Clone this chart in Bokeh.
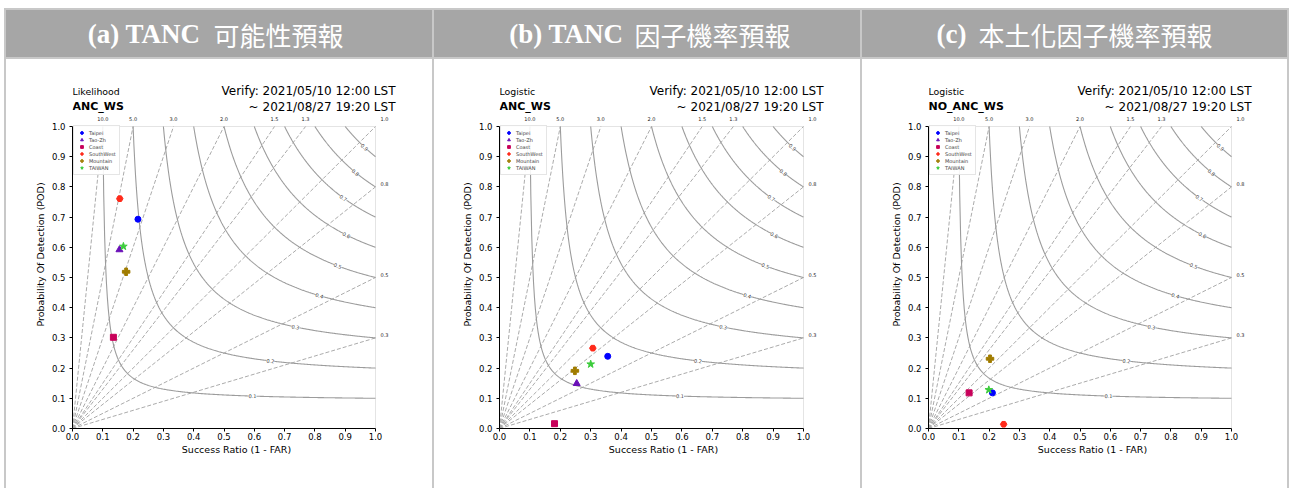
import numpy as np
from bokeh.plotting import figure
from bokeh.layouts import row, column, Spacer
from bokeh.models import (Range1d, FixedTicker, Label, LabelSet, ColumnDataSource,
                          Legend, LegendItem, PrintfTickFormatter)
from bokeh.core.properties import value
from bokeh.embed import file_html
from bokeh.resources import INLINE

# ---------------- data ----------------
regions = ["Taipei", "Tao-Zh", "Coast", "SouthWest", "Mountain", "TAIWAN"]
colors = ["#0000ff", "#6a10b8", "#c8005a", "#ff2a1a", "#a07c00", "#3ccc3c"]
markers = ["circle", "triangle", "square", "hex", "plus", "star"]

sr_a = [0.216, 0.155, 0.135, 0.156, 0.177, 0.168]
pod_a = [0.693, 0.592, 0.302, 0.761, 0.519, 0.603]

sr_b = [0.356, 0.254, 0.181, 0.307, 0.248, 0.300]
pod_b = [0.239, 0.149, 0.016, 0.266, 0.191, 0.213]

sr_c = [0.211, float("nan"), 0.134, 0.248, 0.203, 0.199]
pod_c = [0.118, float("nan"), 0.118, 0.014, 0.231, 0.128]

bias_levels = [0.3, 0.5, 0.8, 1.0, 1.3, 1.5, 2.0, 3.0, 5.0, 10.0]
csi_levels = [0.1, 0.2, 0.3, 0.4, 0.5, 0.6, 0.7, 0.8, 0.9]
csi_label_sr = [0.594, 0.653, 0.736, 0.815, 0.875, 0.904, 0.894, 0.934, 0.964]
tick_values = [0.0, 0.1, 0.2, 0.3, 0.4, 0.5, 0.6, 0.7, 0.8, 0.9, 1.0]

header_left = ["(a) TANC", "(b) TANC", "(c)"]
header_right = ["可能性預報", "因子機率預報", "本土化因子機率預報"]
methods = ["Likelihood", "Logistic", "Logistic"]
cases = ["ANC_WS", "ANC_WS", "NO_ANC_WS"]
verify_start = "Verify: 2021/05/10 12:00 LST"
verify_end = "~ 2021/08/27 19:20 LST"
x_label = "Success Ratio (1 - FAR)"
y_label = "Probability Of Detection (POD)"

HEADER_BG = "#a6a6a6"
BORDER = "#c8c8c8"
SANS = "DejaVu Sans"

# layout geometry (pixels)
BODY_H = 429
FRAME_W = 328          # frame extends a little past SR = 1 to hold the bias labels
FRAME_H = 348          # frame extends above POD = 1 to hold the titles
UNIT_Y = 302           # pixels per unit of POD
MB_TOP = 21
MB_BOTTOM = BODY_H - MB_TOP - FRAME_H


def gray_bar(w, h):
    return Spacer(width=w, height=h, styles={"background-color": BORDER})


def header_fig(w, ml, mr, abs_left, left_txt, right_txt, split_l, split_r):
    h = figure(width=w, height=47, x_range=Range1d(abs_left, abs_left + FRAME_W),
               y_range=Range1d(0, 1), toolbar_location=None, output_backend="svg",
               min_border_left=ml, min_border_right=mr, min_border_top=0,
               min_border_bottom=0, x_axis_location=None, y_axis_location=None,
               outline_line_color=None, background_fill_color=None,
               border_fill_color=None, styles={"background-color": HEADER_BG})
    h.xgrid.visible = False
    h.ygrid.visible = False
    h.add_layout(Label(x=split_l, y=0.5, text=left_txt, text_align="right",
                       text_baseline="middle", text_color="white",
                       text_font="Liberation Serif", text_font_style="bold",
                       text_font_size="27px"))
    h.add_layout(Label(x=split_r, y=0.5, text=right_txt, text_align="left",
                       text_baseline="middle", text_color="white",
                       text_font="Noto Sans CJK TC", text_font_size="26px"))
    return h


def body_fig(w, ml, mr, unit_x, sr, pod, method, case):
    p = figure(width=w, height=BODY_H,
               x_range=Range1d(0, FRAME_W / unit_x), y_range=Range1d(0, FRAME_H / UNIT_Y),
               toolbar_location=None, output_backend="svg",
               min_border_left=ml, min_border_right=mr, min_border_top=MB_TOP,
               min_border_bottom=MB_BOTTOM, background_fill_color=None,
               border_fill_color="white", outline_line_color=None)
    p.xgrid.visible = False
    p.ygrid.visible = False

    lo, hi = tick_values[0], tick_values[-1]
    # faint top / right spines
    p.segment(x0=[lo, hi], y0=[hi, lo], x1=[hi, hi], y1=[hi, hi],
              line_color="#e4e4e4", line_width=1)

    # frequency-bias lines
    bx = [min(1.0, 1.0 / b) for b in bias_levels]
    by = [min(1.0, b) for b in bias_levels]
    p.segment(x0=0, y0=0, x1=bx, y1=by, line_color="#ababab", line_dash="4 2",
              line_width=1)

    # CSI contours
    xs, ys = [], []
    for c in csi_levels:
        x = np.linspace(c, 1.0, 300)
        y = 1.0 / (1.0 / c + 1.0 - 1.0 / x)
        xs.append(x)
        ys.append(y)
    p.multi_line(xs, ys, line_color="#9c9c9c", line_width=1.1)

    lx, ly, la, lt = [], [], [], []
    for c, x in zip(csi_levels, csi_label_sr):
        y = 1.0 / (1.0 / c + 1.0 - 1.0 / x)
        slope = -(y * y) / (x * x)
        lx.append(x)
        ly.append(y)
        la.append(np.arctan(slope))
        lt.append(f"{c:.1f}")
    p.text(x=lx, y=ly, text=lt, angle=la, text_font_size="5px",
           text_font=value(SANS), text_align="center", text_baseline="middle",
           text_color="#333333", background_fill_color="white")

    # bias labels
    bl_x, bl_y, bl_t, bl_xo, bl_yo = [], [], [], [], []
    for b in bias_levels:
        bl_t.append(f"{b:.1f}")
        if b > 1.0:
            bl_x.append(1.0 / b); bl_y.append(1.0); bl_xo.append(0); bl_yo.append(8)
        elif b == 1.0:
            bl_x.append(1.0); bl_y.append(1.0); bl_xo.append(9); bl_yo.append(8)
        else:
            bl_x.append(1.0); bl_y.append(b); bl_xo.append(9); bl_yo.append(3)
    src = ColumnDataSource(dict(x=bl_x, y=bl_y, t=bl_t, xo=bl_xo, yo=bl_yo))
    p.add_layout(LabelSet(x="x", y="y", text="t", x_offset="xo", y_offset="yo",
                          source=src, text_font_size="5px", text_font=value(SANS),
                          text_align="center", text_baseline="middle",
                          text_color="#222222"))

    # points
    sizes = {"circle": 6, "triangle": 7, "square": 6, "hex": 6.5, "plus": 7.5, "star": 8}
    items = []
    for i, name in enumerate(regions):
        r = p.scatter([sr[i]], [pod[i]], marker=markers[i], size=sizes[markers[i]],
                      fill_color=colors[i], line_color=colors[i])
        items.append(LegendItem(label=name, renderers=[r]))
    leg_h = 2 * 3 + 6 * 7
    leg = Legend(items=items, location=(1, int(UNIT_Y - 1 - leg_h)),
                 label_text_font_size="5px",
                 label_text_font=SANS, glyph_height=7, glyph_width=9, label_height=7,
                 spacing=0, padding=3, margin=0, label_standoff=3,
                 border_line_color="#cccccc", background_fill_alpha=0.9)
    p.add_layout(leg)

    # titles
    p.add_layout(Label(x=0, y=1, y_offset=35.5, text=method, text_align="left",
                       text_baseline="middle", text_font=SANS, text_font_size="9.4px",
                       text_color="black"))
    p.add_layout(Label(x=0, y=1, y_offset=20, text=case, text_align="left",
                       text_baseline="middle", text_font=SANS, text_font_style="bold",
                       text_font_size="11px", text_color="black"))
    p.add_layout(Label(x=1, y=1, x_offset=20, y_offset=35.5, text=verify_start,
                       text_align="right", text_baseline="middle", text_font=SANS,
                       text_font_size="12px", text_color="black"))
    p.add_layout(Label(x=1, y=1, x_offset=20, y_offset=20, text=verify_end,
                       text_align="right", text_baseline="middle", text_font=SANS,
                       text_font_size="12px", text_color="black"))

    # axes
    for ax in (p.xaxis[0], p.yaxis[0]):
        ax.ticker = FixedTicker(ticks=tick_values)
        ax.formatter = PrintfTickFormatter(format="%.1f")
        ax.bounds = (lo, hi)
        ax.minor_tick_line_color = None
        ax.major_tick_in = 0
        ax.major_tick_out = 3
        ax.major_label_text_font = SANS
        ax.major_label_text_font_size = "8.5px"
        ax.major_label_text_color = "black"
        ax.axis_label_text_font = SANS
        ax.axis_label_text_font_style = "normal"
        ax.axis_label_text_font_size = "9.5px"
        ax.axis_label_text_color = "black"
        ax.axis_line_color = "black"
        ax.major_tick_line_color = "black"
    p.xaxis.axis_label = x_label
    p.yaxis.axis_label = y_label
    p.xaxis.major_label_standoff = 1
    p.xaxis.axis_label_standoff = 1
    p.yaxis.major_label_standoff = 4
    p.yaxis.axis_label_standoff = 3
    return p


def panel(w, ml, abs_left, unit_x, idx, sr, pod, split_l, split_r):
    mr = w - ml - FRAME_W
    hdr = header_fig(w, ml, mr, abs_left, header_left[idx], header_right[idx],
                     split_l, split_r)
    body = body_fig(w, ml, mr, unit_x, sr, pod, methods[idx], cases[idx])
    return column(Spacer(width=w, height=8), gray_bar(w, 2), hdr,
                  gray_bar(w, 2), body)


def vline():
    return column(Spacer(width=2, height=8), gray_bar(2, 480))


col_a = panel(426, 66, 72, 303, 0, sr_a, pod_a, 200, 213)
col_b = panel(426, 65, 499, 304, 1, sr_b, pod_b, 623, 634)
col_c = panel(425, 66, 928, 303, 2, sr_c, pod_c, 966, 978)

layout = row(Spacer(width=4, height=488), vline(), col_a, vline(), col_b, vline(),
             col_c, vline())

open("out.html", "w").write(file_html(layout, INLINE))
